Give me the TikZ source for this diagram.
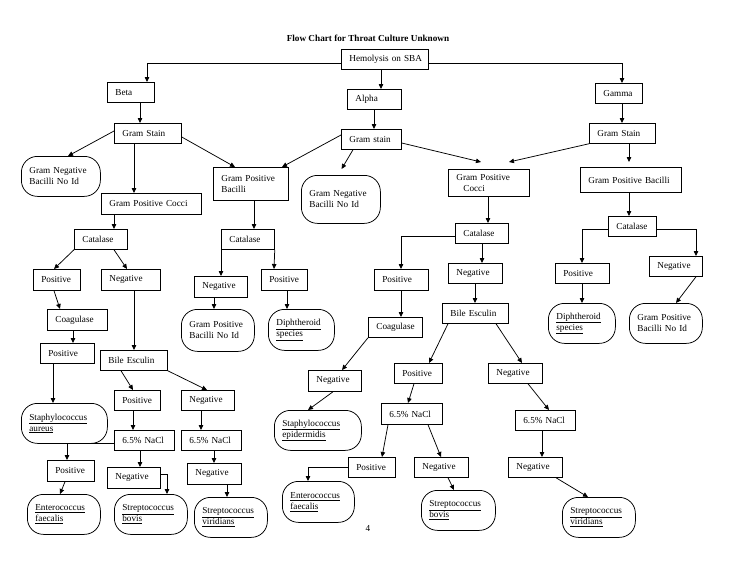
\documentclass[tikz,border=0pt]{standalone}
\usepackage{fontspec}
\setmainfont{Liberation Serif}
\usetikzlibrary{arrows.meta,calc}
\newcommand\mkbox[7]{%
  \pgfmathsetmacro\tw{#5-16}%
  \node[#1, anchor=north west, minimum width=#5pt, minimum height=#6pt, text width=\tw pt] (#2) at (#3,#4) {#7};%
}
\tikzset{
  rect/.style={draw, line width=0.75pt, inner xsep=8pt, inner ysep=2pt, align=left, font=\fontsize{9.2}{11}\selectfont},
  rnd/.style={rect, rounded corners=16pt},
  arr/.style={-{Triangle[length=5pt,width=4.5pt]}, line width=0.75pt},
  ttl/.style={font=\fontsize{9.2}{11}\selectfont\bfseries, inner sep=0pt},
}
\begin{document}
\begin{tikzpicture}[x=1pt,y=-1pt]
\fill[white] (0,0) rectangle (736,568);
\useasboundingbox (0,0) rectangle (736,568);
\node[ttl] (title) at (368,38) {Flow Chart for Throat Culture Unknown};
\node[ttl, font=\fontsize{9.2}{11}\selectfont] (page) at (368,528) {4};
% top
\mkbox{rect}{hem}{341}{49}{87}{20}{Hemolysis~on~SBA}
\mkbox{rect}{beta}{107}{82}{47}{20}{Beta}
\mkbox{rect}{alpha}{347}{89}{54}{20}{Alpha}
\mkbox{rect}{gamma}{595}{83}{47}{20}{Gamma}
\mkbox{rect}{gsB}{114}{123}{67}{20}{Gram~Stain}
\mkbox{rect}{gsA}{341}{129}{60}{20}{Gram~stain}
\mkbox{rect}{gsG}{589}{123}{66}{20}{Gram~Stain}
% beta branch
\mkbox{rnd}{gnbB}{21}{156}{79}{40}{Gram~Negative\\Bacilli~No~Id}
\mkbox{rect}{gpcB}{101}{193}{100}{21}{Gram~Positive~Cocci}
\mkbox{rect}{catB}{74}{229}{53}{20}{Catalase}
\mkbox{rect}{posB1}{33}{269}{47}{21}{Positive}
\mkbox{rect}{negB1}{101}{269}{59}{21}{Negative}
\mkbox{rect}{coagB}{47}{309}{60}{21}{Coagulase}
\mkbox{rect}{posB2}{40}{343}{54}{20}{Positive}
\mkbox{rnd}{saur}{21}{403}{86}{40}{\underline{Staphylococcus}\\\underline{aureus}}
\mkbox{rect}{bileB}{100}{350}{67}{20}{Bile~Esculin}
\mkbox{rect}{posB3}{114}{390}{46}{20}{Positive}
\mkbox{rect}{negB3}{181}{390}{53}{20}{Negative}
\mkbox{rect}{naclB1}{114}{430}{60}{20}{6.5\%~NaCl}
\mkbox{rect}{naclB2}{181}{430}{60}{20}{6.5\%~NaCl}
\mkbox{rect}{posB4}{47}{460}{47}{21}{Positive}
\mkbox{rect}{negB4}{107}{467}{53}{21}{Negative}
\mkbox{rect}{negB5}{187}{463}{54}{21}{Negative}
\mkbox{rnd}{efB}{27}{494}{73}{40}{\underline{Enterococcus}\\\underline{faecalis}}
\mkbox{rnd}{sbB}{114}{494}{73}{40}{\underline{Streptococcus}\\\underline{bovis}}
\mkbox{rnd}{svB}{194}{497}{73}{40}{\underline{Streptococcus}\\\underline{viridians}}
% gram positive bacilli (shared)
\mkbox{rect}{gpb}{213}{167}{75}{33}{Gram~Positive\\Bacilli}
\mkbox{rect}{catM}{221}{229}{53}{20}{Catalase}
\mkbox{rect}{negM}{194}{276}{53}{21}{Negative}
\mkbox{rect}{posM}{261}{269}{46}{21}{Positive}
\mkbox{rnd}{gpbno}{181}{309}{73}{42}{Gram~Positive\\Bacilli~No~Id}
\mkbox{rnd}{diphM}{268}{309}{66}{41}{\underline{Diphtheroid}\\\underline{species}}
\mkbox{rnd}{gnbA}{301}{175}{79}{48}{Gram~Negative\\Bacilli~No~Id}
% gram positive cocci (shared)
\mkbox{rect}{gpcA}{448}{169}{81}{27}{Gram~Positive\\\hspace*{7pt}Cocci}
\mkbox{rect}{catA}{455}{223}{53}{20}{Catalase}
\mkbox{rect}{posA1}{374}{269}{54}{21}{Positive}
\mkbox{rect}{negA1}{448}{263}{54}{20}{Negative}
\mkbox{rect}{coagA}{368}{317}{54}{20}{Coagulase}
\mkbox{rect}{negA2}{308}{370}{53}{21}{Negative}
\mkbox{rnd}{sepi}{274}{410}{87}{40}{\underline{Staphylococcus}\\\underline{epidermidis}}
\mkbox{rect}{bileA}{442}{303}{66}{20}{Bile~Esculin}
\mkbox{rect}{posA2}{394}{363}{48}{20}{Positive}
\mkbox{rect}{negA3}{488}{363}{54}{20}{Negative}
\mkbox{rect}{naclA1}{381}{403}{61}{21}{6.5\%~NaCl}
\mkbox{rect}{posA3}{348}{457}{47}{20}{Positive}
\mkbox{rect}{negA4}{414}{457}{54}{20}{Negative}
\mkbox{rnd}{efA}{282}{481}{72}{41}{\underline{Enterococcus}\\\underline{faecalis}}
\mkbox{rnd}{sbA}{421}{490}{74}{40}{\underline{Streptococcus}\\\underline{bovis}}
\mkbox{rect}{naclA2}{515}{410}{60}{20}{6.5\%~NaCl}
\mkbox{rect}{negA5}{508}{457}{54}{20}{Negative}
\mkbox{rnd}{svA}{562}{497}{73}{40}{\underline{Streptococcus}\\\underline{viridians}}
% gamma branch
\mkbox{rect}{gpbG}{580}{167}{101}{25}{Gram~Positive~Bacilli}
\mkbox{rect}{catG}{608}{216}{48}{20}{Catalase}
\mkbox{rect}{posG}{555}{263}{54}{20}{Positive}
\mkbox{rect}{negG}{649}{256}{53}{20}{Negative}
\mkbox{rnd}{diphG}{548}{303}{67}{40}{\underline{Diphtheroid}\\\underline{species}}
\mkbox{rnd}{gpbnoG}{629}{303}{73}{40}{Gram~Positive\\Bacilli~No~Id}
% connectors: top
\draw[arr] ($(hem.north west)+(0,14)$) -| ($(beta.north west)+(40,0)$);
\draw[arr] ($(hem.north east)+(0,14)$) -| ($(gamma.north west)+(27,0)$);
\draw[arr] ($(hem.south west)+(40,0)$) -- ($(alpha.north west)+(34,0)$);
\draw[arr] ($(beta.south west)+(33,0)$) -- ($(gsB.north west)+(26,0)$);
\draw[arr] ($(alpha.south west)+(27,0)$) -- ($(gsA.north west)+(33,0)$);
\draw[arr] ($(gamma.south west)+(27,0)$) -- ($(gsG.north west)+(33,0)$);
\draw[arr] ($(gsB.north west)+(0,8)$) -- ($(gnbB.north west)+(47,0)$);
\draw[arr] ($(gsB.south west)+(20,0)$) -- ($(gpcB.north west)+(33,0)$);
\draw[arr] ($(gsB.north east)+(0,14)$) -- ($(gpb.north west)+(22,0)$);
\draw[arr] ($(gsA.north west)+(0,6)$) -- ($(gpb.north west)+(69,0)$);
\draw[arr, shorten >=7pt] ($(gsA.south west)+(12,0)$) -- ($(gnbA.north west)+(37,0)$);
\draw[arr] ($(gsA.north east)+(0,14)$) -- ($(gpcA.north west)+(33,-7)$);
\draw[arr] (gsG.south west) -- ($(gpcA.north west)+(61,-7)$);
\draw[arr] ($(gsG.south west)+(40,0)$) -- ($(gpbG.north west)+(49,-5)$);
% gamma branch
\draw[arr] ($(gpbG.south west)+(49,0)$) -- ($(catG.north west)+(21,0)$);
\draw[arr] ($(catG.north west)+(0,13)$) -| ($(posG.north west)+(27,0)$);
\draw[arr] ($(catG.north east)+(0,13)$) -| ($(negG.north west)+(47,0)$);
\draw[arr] ($(posG.south west)+(27,0)$) -- ($(diphG.north west)+(34,0)$);
\draw[arr] ($(negG.south west)+(47,0)$) -- ($(gpbnoG.north west)+(47,0)$);
% gpc shared
\draw[arr] ($(gpcA.south west)+(40,0)$) -- ($(catA.north west)+(33,0)$);
\draw[arr] ($(catA.north west)+(0,13)$) -| ($(posA1.north west)+(27,0)$);
\draw[arr] ($(catA.south west)+(27,0)$) -- ($(negA1.north west)+(34,0)$);
\draw[arr] ($(negA1.south west)+(27,0)$) -- ($(bileA.north west)+(33,0)$);
\draw[arr] ($(posA1.south west)+(27,0)$) -- ($(coagA.north west)+(33,0)$);
\draw[arr] (coagA.south west) -- ($(negA2.north west)+(34,0)$);
\draw[arr] ($(negA2.south west)+(25,0)$) -- ($(sepi.north west)+(34,0)$);
\draw[arr] ($(bileA.south west)+(6,0)$) -- ($(posA2.north west)+(35,0)$);
\draw[arr] ($(bileA.south west)+(54,0)$) -- ($(negA3.north west)+(34,0)$);
\draw[arr] ($(posA2.south west)+(20,0)$) -- ($(naclA1.north west)+(27,0)$);
\draw[arr] ($(naclA1.south west)+(7,0)$) -- ($(posA3.north west)+(34,0)$);
\draw[arr] ($(naclA1.south west)+(47,0)$) -- ($(negA4.north west)+(27,0)$);
\draw[arr] ($(posA3.north west)+(0,10)$) -| ($(efA.north west)+(26,0)$);
\draw[arr] ($(negA4.south west)+(34,0)$) -- ($(sbA.north west)+(33,0)$);
\draw[arr] ($(negA3.south west)+(40,0)$) -- ($(naclA2.north west)+(34,0)$);
\draw[arr] ($(naclA2.south west)+(27,0)$) -- ($(negA5.north west)+(34,0)$);
\draw[arr] ($(negA5.south west)+(48,0)$) -- ($(svA.north west)+(26,0)$);
% beta branch
\draw[arr] ($(gpcB.south west)+(13,0)$) -- ($(catB.north west)+(40,0)$);
\draw[arr] (catB.south west) -- ($(posB1.north west)+(21,0)$);
\draw[arr] ($(catB.south west)+(40,0)$) -- ($(negB1.north west)+(26,0)$);
\draw[arr] ($(posB1.south west)+(21,0)$) -- ($(coagB.north west)+(13,0)$);
\draw[arr] ($(coagB.south west)+(26,0)$) -- ($(posB2.north west)+(33,0)$);
\draw[arr] ($(posB2.south west)+(13,0)$) -- ($(saur.north west)+(32,0)$);
\draw[arr] ($(negB1.south west)+(33,0)$) -- ($(bileB.north west)+(34,0)$);
\draw[arr] ($(bileB.south west)+(21,0)$) -- ($(posB3.north west)+(19,0)$);
\draw[arr] (bileB.south east) -- ($(negB3.north west)+(26,0)$);
\draw[arr] ($(posB3.south west)+(19,0)$) -- ($(naclB1.north west)+(19,0)$);
\draw[arr] ($(negB3.south west)+(20,0)$) -- ($(naclB2.north west)+(20,0)$);
\draw[arr] ($(naclB1.north west)+(0,13)$) -| ($(posB4.north west)+(20,0)$);
\draw[arr] ($(naclB1.south west)+(26,0)$) -- ($(negB4.north west)+(33,0)$);
\draw[arr] ($(negB4.north east)+(0,7)$) -| ($(sbB.north west)+(53,0)$);
\draw[arr] ($(posB4.south west)+(18,0)$) -- ($(efB.north west)+(33,0)$);
\draw[arr] ($(naclB2.south west)+(33,0)$) -- ($(negB5.north west)+(27,0)$);
\draw[arr] ($(negB5.south west)+(40,0)$) -- ($(svB.north west)+(33,0)$);
% gpb shared
\draw[arr] ($(gpb.south west)+(41,0)$) -- ($(catM.north west)+(33,0)$);
\draw[arr] (catM.south west) -- ($(negM.north west)+(27,0)$);
\draw[arr] (catM.south east) -- ($(posM.north west)+(13,0)$);
\draw[arr] ($(negM.south west)+(20,0)$) -- ($(gpbno.north west)+(33,0)$);
\draw[arr] ($(posM.south west)+(26,0)$) -- ($(diphM.north west)+(19,0)$);
\end{tikzpicture}
\end{document}
